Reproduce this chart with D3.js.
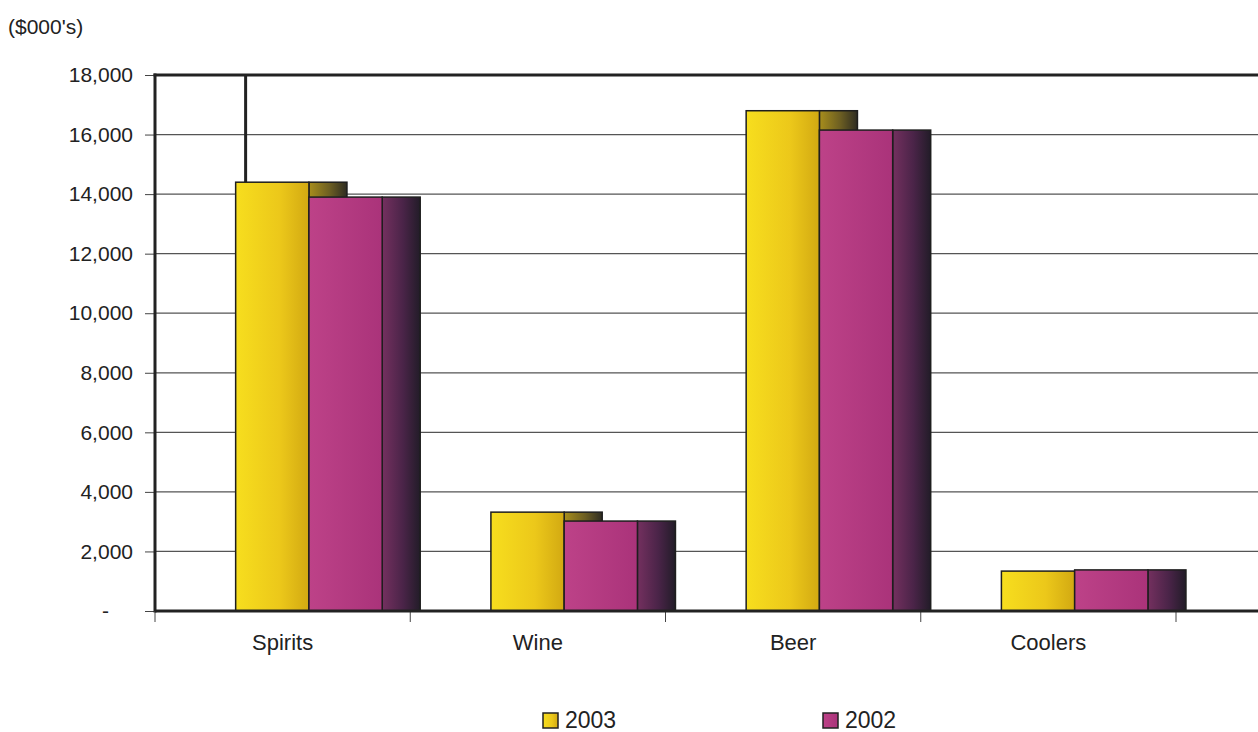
<!DOCTYPE html>
<html>
<head>
<meta charset="utf-8">
<script src="https://cdn.jsdelivr.net/npm/d3@7/dist/d3.min.js"></script>
<style>
  html, body { margin: 0; padding: 0; background: #fff; }
  svg { display: block; font-family: "Liberation Sans", Arial, sans-serif; }
</style>
</head>
<body>
<svg id="chart" width="1258" height="732"></svg>
<script>
// Sales by product category, in thousands of dollars
const categories = ["Spirits", "Wine", "Beer", "Coolers"];
const values2003 = [14400, 3320, 16800, 1340];
const values2002 = [13900, 3020, 16150, 1380];
const seriesNames = ["2003", "2002"];
const yTickValues = [0, 2000, 4000, 6000, 8000, 10000, 12000, 14000, 16000, 18000];
const yTickLabels = ["-", "2,000", "4,000", "6,000", "8,000", "10,000", "12,000", "14,000", "16,000", "18,000"];

const svg = d3.select("#chart");
const plot = { left: 155, right: 1262, top: 75, bottom: 611 };

const x = d3.scaleBand().domain(categories).range([plot.left, 1176]).padding(0);
const y = d3.scaleLinear().domain([0, 18000]).range([plot.bottom, plot.top]);
const bw = x.bandwidth();

// bar geometry within each band
const frontOffset = 0.316 * bw;
const frontWidth = 0.287 * bw;
const depth = 0.149 * bw;

// gradients
const defs = svg.append("defs");
function grad(id, stops) {
  const g = defs.append("linearGradient").attr("id", id)
    .attr("x1", "0%").attr("x2", "100%").attr("y1", "0%").attr("y2", "0%");
  stops.forEach(([o, c]) => g.append("stop").attr("offset", o).attr("stop-color", c));
}
grad("yFront", [["0%", "#f7de1e"], ["60%", "#ecc81a"], ["100%", "#d2a912"]]);
grad("yDark", [["0%", "#a88e1c"], ["55%", "#6c5e22"], ["100%", "#2e2c22"]]);
grad("mFront", [["0%", "#bd4288"], ["100%", "#aa337a"]]);
grad("mDark", [["0%", "#74305f"], ["55%", "#4a2448"], ["100%", "#221c28"]]);

// horizontal gridlines
svg.append("g").selectAll("line")
  .data(yTickValues.filter(v => v > 0 && v < 18000))
  .join("line")
  .attr("x1", plot.left).attr("x2", plot.right)
  .attr("y1", d => y(d)).attr("y2", d => y(d))
  .attr("stroke", "#555").attr("stroke-width", 1.2);

// top frame line and inner divider
svg.append("line")
  .attr("x1", plot.left - 1.5).attr("x2", plot.right)
  .attr("y1", y(18000)).attr("y2", y(18000))
  .attr("stroke", "#222").attr("stroke-width", 3);
svg.append("line")
  .attr("x1", x("Spirits") + 0.355 * bw).attr("x2", x("Spirits") + 0.355 * bw)
  .attr("y1", y(18000)).attr("y2", y(values2003[0]))
  .attr("stroke", "#222").attr("stroke-width", 3);

// bars
const groups = svg.append("g").selectAll("g")
  .data(categories.map((c, i) => ({ c, v3: values2003[i], v2: values2002[i] })))
  .join("g");

const stroke = "#1e1e1e";
const sw = 1.5;

// 2003 side face (shows above the 2002 bar)
groups.append("rect")
  .attr("x", d => x(d.c) + frontOffset + frontWidth)
  .attr("y", d => y(d.v3))
  .attr("width", depth)
  .attr("height", d => y(0) - y(d.v3))
  .attr("fill", "url(#yDark)").attr("stroke", stroke).attr("stroke-width", sw);
// 2003 front face
groups.append("rect")
  .attr("x", d => x(d.c) + frontOffset)
  .attr("y", d => y(d.v3))
  .attr("width", frontWidth)
  .attr("height", d => y(0) - y(d.v3))
  .attr("fill", "url(#yFront)").attr("stroke", stroke).attr("stroke-width", sw);
// 2002 side face
groups.append("rect")
  .attr("x", d => x(d.c) + frontOffset + 2 * frontWidth)
  .attr("y", d => y(d.v2))
  .attr("width", depth)
  .attr("height", d => y(0) - y(d.v2))
  .attr("fill", "url(#mDark)").attr("stroke", stroke).attr("stroke-width", sw);
// 2002 front face
groups.append("rect")
  .attr("x", d => x(d.c) + frontOffset + frontWidth)
  .attr("y", d => y(d.v2))
  .attr("width", frontWidth)
  .attr("height", d => y(0) - y(d.v2))
  .attr("fill", "url(#mFront)").attr("stroke", stroke).attr("stroke-width", sw);

// y axis
const yAxis = d3.axisLeft(y).tickValues(yTickValues)
  .tickFormat((d, i) => yTickLabels[i]).tickSize(10).tickPadding(12);
const yg = svg.append("g").attr("transform", `translate(${plot.left},0)`).call(yAxis);
yg.select(".domain").remove();
yg.selectAll(".tick line").attr("stroke", "#444").attr("stroke-width", 1);
yg.selectAll(".tick text").attr("font-size", 21).attr("fill", "#222")
  .attr("font-family", "Liberation Sans, Arial, sans-serif")
  .attr("dx", d => d === 0 ? -24 : 0);
svg.append("line")
  .attr("x1", plot.left).attr("x2", plot.left)
  .attr("y1", plot.top - 1.5).attr("y2", plot.bottom + 1.5)
  .attr("stroke", "#222").attr("stroke-width", 3);

// x axis
const boundaries = [plot.left].concat(categories.map(c => x(c) + bw));
svg.append("g").selectAll("line").data(boundaries).join("line")
  .attr("x1", d => d).attr("x2", d => d)
  .attr("y1", plot.bottom).attr("y2", plot.bottom + 11)
  .attr("stroke", "#444").attr("stroke-width", 1);
svg.append("line")
  .attr("x1", plot.left).attr("x2", plot.right)
  .attr("y1", plot.bottom).attr("y2", plot.bottom)
  .attr("stroke", "#222").attr("stroke-width", 3);
svg.append("g").selectAll("text").data(categories).join("text")
  .attr("x", d => x(d) + bw / 2)
  .attr("y", 650)
  .attr("text-anchor", "middle")
  .attr("font-size", 22).attr("fill", "#222")
  .text(d => d);

// units label
svg.append("text").attr("x", 8).attr("y", 34)
  .attr("font-size", 21).attr("fill", "#222").text("($000's)");

// legend
const legend = svg.append("g").selectAll("g")
  .data(seriesNames.map((s, i) => ({ s, fill: i === 0 ? "url(#yFront)" : "url(#mFront)", lx: i === 0 ? 543 : 823 })))
  .join("g");
legend.append("rect")
  .attr("x", d => d.lx).attr("y", 713)
  .attr("width", 15).attr("height", 15)
  .attr("fill", d => d.fill).attr("stroke", "#222").attr("stroke-width", 1.5);
legend.append("text")
  .attr("x", d => d.lx + 22).attr("y", 728)
  .attr("font-size", 23).attr("fill", "#222")
  .text(d => d.s);
</script>
</body>
</html>
